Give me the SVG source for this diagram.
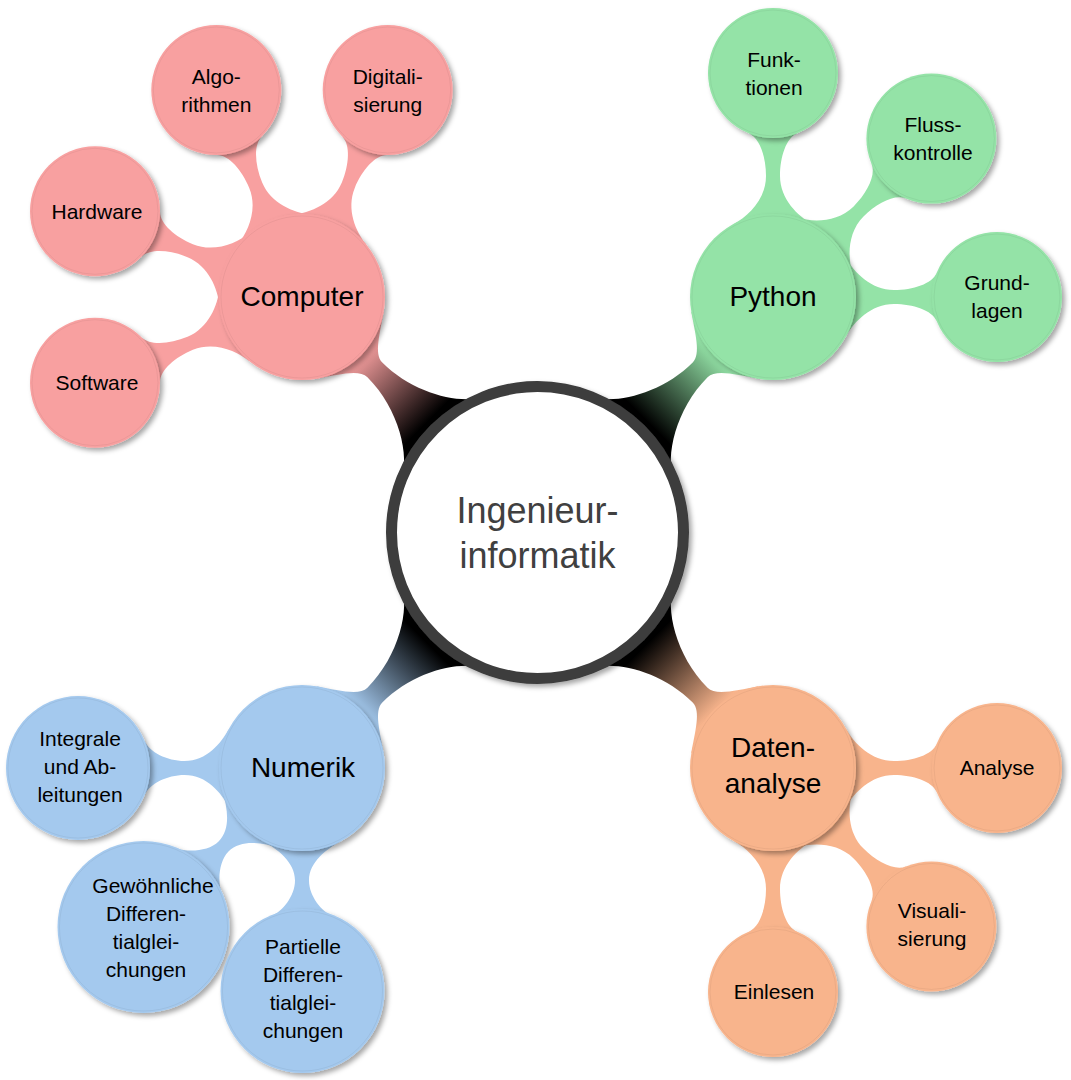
<svg xmlns="http://www.w3.org/2000/svg" width="1071" height="1080" viewBox="0 0 1071 1080">
<defs>
<filter id="sh" x="-20%" y="-20%" width="140%" height="140%">
<feDropShadow dx="3" dy="3" stdDeviation="2.5" flood-color="#000" flood-opacity="0.35"/>
</filter>
<linearGradient id="gR" gradientUnits="userSpaceOnUse" x1="151" y1="0" x2="252" y2="0"><stop offset="0.05" stop-color="#000"/><stop offset="1" stop-color="#F8A0A0"/></linearGradient>
<linearGradient id="gG" gradientUnits="userSpaceOnUse" x1="151" y1="0" x2="252" y2="0"><stop offset="0.05" stop-color="#000"/><stop offset="1" stop-color="#94E3A7"/></linearGradient>
<linearGradient id="gB" gradientUnits="userSpaceOnUse" x1="151" y1="0" x2="252" y2="0"><stop offset="0.05" stop-color="#000"/><stop offset="1" stop-color="#A4C9EE"/></linearGradient>
<linearGradient id="gO" gradientUnits="userSpaceOnUse" x1="151" y1="0" x2="252" y2="0"><stop offset="0.05" stop-color="#000"/><stop offset="1" stop-color="#F8B48C"/></linearGradient>
<path id="cc" d="M133.4,59.4 C143.6,36.6 185,10.5 230,10.5 C242,10.5 252.4,29.6 265,47.6 L265,-47.6 C252.4,-29.6 242,-10.5 230,-10.5 C185,-10.5 143.6,-36.6 133.4,-59.4 Z"/>
<path id="k65" d="M73.3,39 C80.8,24.9 98,7 121,7 C140,7 159.2,13.2 163.7,24.3 L163.7,-24.3 C159.2,-13.2 140,-7 121,-7 C98,-7 80.8,-24.9 73.3,-39 Z"/>
<path id="k72" d="M73.3,39 C80.8,24.9 95,7 117.5,7 C135,7 152.7,15.9 157.2,27 L157.2,-27 C152.7,-15.9 135,-7 117.5,-7 C95,-7 80.8,-24.9 73.3,-39 Z"/>
<path id="k86" d="M73.3,39 C80.8,24.9 93,7 111,7 C125,7 140.8,21.1 145.3,32.2 L145.3,-32.2 C140.8,-21.1 125,-7 111,-7 C93,-7 80.8,-24.9 73.3,-39 Z"/>
<path id="k82" d="M73.3,39 C80.8,24.9 94,7 112.5,7 C128,7 143.5,19.6 148,30.7 L148,-30.7 C143.5,-19.6 128,-7 112.5,-7 C94,-7 80.8,-24.9 73.3,-39 Z"/>
</defs>
<style>
.t{font-family:"Liberation Sans",Arial,sans-serif;fill:#000;text-anchor:middle}
.s{font-size:21px}
.m{font-size:28px}
.ctr{font-size:36px;fill:#404040}
.red{fill:#F8A0A0}
.grn{fill:#94E3A7}
.blu{fill:#A4C9EE}
.org{fill:#F8B48C}
.sh{filter:url(#sh)}
.ol{fill:none;stroke:#000;stroke-opacity:0.08;stroke-width:0.7}
</style>
<rect width="1071" height="1080" fill="#fff"/>
<g id="connectors">
<use href="#cc" fill="url(#gR)" transform="translate(537.5,532.5) rotate(225)"/>
<use href="#cc" fill="url(#gG)" transform="translate(537.5,532.5) rotate(-45)"/>
<use href="#cc" fill="url(#gB)" transform="translate(537.5,532.5) rotate(135)"/>
<use href="#cc" fill="url(#gO)" transform="translate(537.5,532.5) rotate(45)"/>
<use href="#k65" class="red" transform="translate(302,297) rotate(-112.5)"/>
<use href="#k65" class="red" transform="translate(302,297) rotate(-67.5)"/>
<use href="#k65" class="red" transform="translate(302,297) rotate(-157.5)"/>
<use href="#k65" class="red" transform="translate(302,297) rotate(157.5)"/>
<use href="#k65" class="grn" transform="translate(773,297) rotate(-90)"/>
<use href="#k65" class="grn" transform="translate(773,297) rotate(-45)"/>
<use href="#k65" class="grn" transform="translate(773,297) rotate(0)"/>
<use href="#k72" class="blu" transform="translate(302,768) rotate(180)"/>
<use href="#k86" class="blu" transform="translate(302,768) rotate(135)"/>
<use href="#k82" class="blu" transform="translate(302,768) rotate(90)"/>
<use href="#k65" class="org" transform="translate(773,768) rotate(0)"/>
<use href="#k65" class="org" transform="translate(773,768) rotate(45)"/>
<use href="#k65" class="org" transform="translate(773,768) rotate(90)"/>
</g>
<g id="center">
<circle class="sh" cx="537.5" cy="532.5" r="146" fill="#fff" stroke="#3c3c3c" stroke-width="11"/>
<text class="t ctr" x="537.5" y="523">Ingenieur-</text>
<text class="t ctr" x="537.5" y="568">informatik</text>
</g>
<g id="computer">
<circle class="red sh" cx="302" cy="297" r="83"/><circle class="ol" cx="302" cy="297" r="81"/>
<text class="t m" x="302" y="306">Computer</text>
</g>
<g id="python">
<circle class="grn sh" cx="773" cy="297" r="83"/><circle class="ol" cx="773" cy="297" r="81"/>
<text class="t m" x="773" y="306">Python</text>
</g>
<g id="numerik">
<circle class="blu sh" cx="302" cy="768" r="83"/><circle class="ol" cx="302" cy="768" r="81"/>
<text class="t m" x="303" y="777">Numerik</text>
</g>
<g id="datenanalyse">
<circle class="org sh" cx="773" cy="768" r="83"/><circle class="ol" cx="773" cy="768" r="81"/>
<text class="t m" x="773" y="757">Daten-</text>
<text class="t m" x="773" y="793">analyse</text>
</g>
<g id="algorithmen">
<circle class="red sh" cx="216.3" cy="90" r="65"/><circle class="ol" cx="216.3" cy="90" r="63"/>
<text class="t s" x="216.3" y="84">Algo-</text><text class="t s" x="216.3" y="112">rithmen</text>
</g>
<g id="digitalisierung">
<circle class="red sh" cx="387.7" cy="90" r="65"/><circle class="ol" cx="387.7" cy="90" r="63"/>
<text class="t s" x="387.7" y="84">Digitali-</text><text class="t s" x="387.7" y="112">sierung</text>
</g>
<g id="hardware">
<circle class="red sh" cx="95" cy="211.3" r="65"/><circle class="ol" cx="95" cy="211.3" r="63"/>
<text class="t s" x="97" y="219">Hardware</text>
</g>
<g id="software">
<circle class="red sh" cx="95" cy="382.7" r="65"/><circle class="ol" cx="95" cy="382.7" r="63"/>
<text class="t s" x="97" y="390">Software</text>
</g>
<g id="funktionen">
<circle class="grn sh" cx="773" cy="73" r="65"/><circle class="ol" cx="773" cy="73" r="63"/>
<text class="t s" x="774" y="67">Funk-</text><text class="t s" x="774" y="95">tionen</text>
</g>
<g id="flusskontrolle">
<circle class="grn sh" cx="931.4" cy="138.6" r="65"/><circle class="ol" cx="931.4" cy="138.6" r="63"/>
<text class="t s" x="933" y="132">Fluss-</text><text class="t s" x="933" y="160">kontrolle</text>
</g>
<g id="grundlagen">
<circle class="grn sh" cx="997" cy="297" r="65"/><circle class="ol" cx="997" cy="297" r="63"/>
<text class="t s" x="997" y="289.5">Grund-</text><text class="t s" x="997" y="317.5">lagen</text>
</g>
<g id="integrale">
<circle class="blu sh" cx="78" cy="768" r="72"/><circle class="ol" cx="78" cy="768" r="70"/>
<text class="t s" x="80" y="746">Integrale</text><text class="t s" x="80" y="774">und Ab-</text><text class="t s" x="80" y="802">leitungen</text>
</g>
<g id="gewoehnliche">
<circle class="blu sh" cx="143.5" cy="927" r="86"/><circle class="ol" cx="143.5" cy="927" r="84"/>
<text class="t s" x="153" y="893">Gewöhnliche</text><text class="t s" x="146" y="921">Differen-</text><text class="t s" x="146" y="949">tialglei-</text><text class="t s" x="146" y="977">chungen</text>
</g>
<g id="partielle">
<circle class="blu sh" cx="302.5" cy="991" r="82"/><circle class="ol" cx="302.5" cy="991" r="80"/>
<text class="t s" x="303" y="954">Partielle</text><text class="t s" x="303" y="982">Differen-</text><text class="t s" x="303" y="1010">tialglei-</text><text class="t s" x="303" y="1038">chungen</text>
</g>
<g id="analyse">
<circle class="org sh" cx="997" cy="768" r="65"/><circle class="ol" cx="997" cy="768" r="63"/>
<text class="t s" x="997" y="775">Analyse</text>
</g>
<g id="visualisierung">
<circle class="org sh" cx="931.4" cy="926.4" r="65"/><circle class="ol" cx="931.4" cy="926.4" r="63"/>
<text class="t s" x="932" y="918">Visuali-</text><text class="t s" x="932" y="946">sierung</text>
</g>
<g id="einlesen">
<circle class="org sh" cx="773" cy="992" r="65"/><circle class="ol" cx="773" cy="992" r="63"/>
<text class="t s" x="774" y="999">Einlesen</text>
</g>
</svg>
